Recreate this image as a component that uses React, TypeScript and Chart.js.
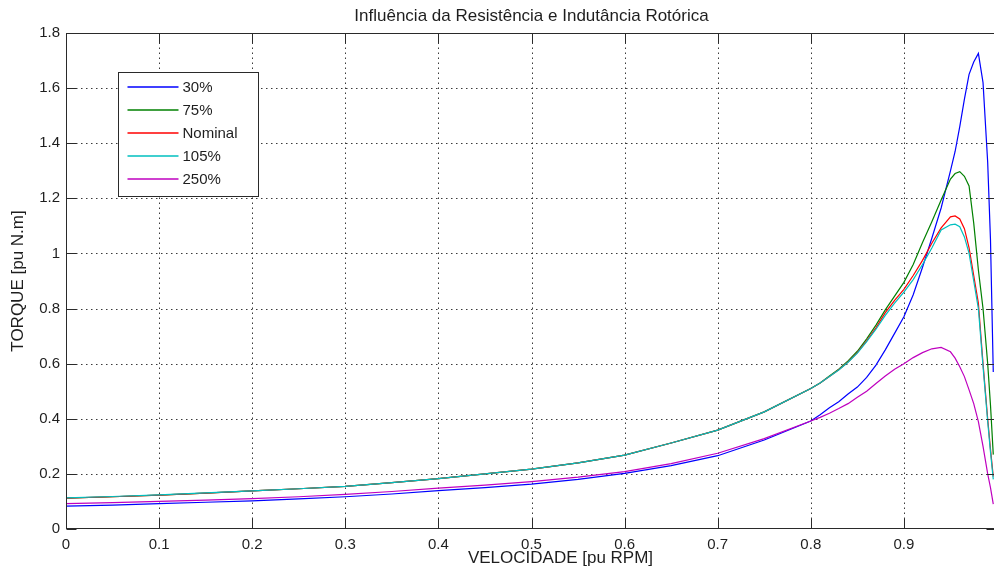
import { useEffect, useRef } from 'react';
import { Chart, registerables } from 'chart.js';

Chart.register(...registerables);

// ---- data ----
const speed = [
  0, 0.05, 0.1, 0.15, 0.2, 0.25, 0.3, 0.35, 0.4, 0.45, 0.5, 0.55, 0.6, 0.65, 0.7, 0.75, 0.8,
  0.81, 0.82, 0.83, 0.84, 0.85, 0.86, 0.87, 0.88, 0.89, 0.9, 0.91, 0.92, 0.93, 0.94, 0.95,
  0.955, 0.96, 0.965, 0.97, 0.975, 0.98, 0.985, 0.99, 0.993, 0.996,
];

const torque30 = [
  0.083, 0.087, 0.092, 0.097, 0.102, 0.109, 0.117, 0.127, 0.139, 0.15, 0.163, 0.18, 0.202, 0.23, 0.266, 0.323, 0.392,
  0.415, 0.44, 0.462, 0.49, 0.515, 0.55, 0.595, 0.65, 0.71, 0.77, 0.85, 0.95, 1.055, 1.165, 1.3,
  1.37, 1.46, 1.56, 1.65, 1.695, 1.726, 1.62, 1.33, 1.05, 0.57,
];

const torque75 = [
  0.112, 0.117, 0.123, 0.13, 0.138, 0.146, 0.155, 0.168, 0.183, 0.2, 0.217, 0.24, 0.268, 0.312, 0.359, 0.425, 0.51,
  0.53, 0.555, 0.58, 0.61, 0.645, 0.69, 0.74, 0.795, 0.845, 0.895, 0.96, 1.04, 1.115, 1.194, 1.27,
  1.29, 1.297, 1.28, 1.245, 1.11, 0.94, 0.8, 0.6, 0.45, 0.27,
];

const torqueNominal = [
  0.112, 0.117, 0.123, 0.13, 0.138, 0.146, 0.155, 0.168, 0.183, 0.2, 0.217, 0.24, 0.268, 0.312, 0.359, 0.425, 0.51,
  0.53, 0.553, 0.578, 0.606, 0.64, 0.683, 0.73, 0.785, 0.83, 0.87, 0.92, 0.975, 1.037, 1.093, 1.133,
  1.136, 1.125, 1.09, 1.02, 0.92, 0.82, 0.6, 0.4, 0.29, 0.19,
];

const torque105 = [
  0.113, 0.118, 0.124, 0.131, 0.138, 0.146, 0.155, 0.168, 0.183, 0.2, 0.217, 0.24, 0.268, 0.312, 0.359, 0.425, 0.51,
  0.53, 0.553, 0.577, 0.605, 0.638, 0.68, 0.725, 0.775, 0.82, 0.86, 0.905, 0.96, 1.02, 1.085, 1.104,
  1.106, 1.097, 1.06, 1.0, 0.9, 0.8, 0.59, 0.39, 0.28, 0.18,
];

const torque250 = [
  0.092, 0.096, 0.1, 0.105, 0.11, 0.117, 0.126, 0.136, 0.148, 0.159, 0.172, 0.188, 0.208, 0.237, 0.275, 0.328, 0.392,
  0.405, 0.42, 0.437, 0.455, 0.478, 0.5, 0.528, 0.555, 0.58, 0.6, 0.622, 0.64, 0.654, 0.659, 0.643,
  0.62, 0.589, 0.553, 0.505, 0.455, 0.39, 0.3, 0.2, 0.15, 0.09,
];

const seriesLabels = ['30%', '75%', 'Nominal', '105%', '250%'];
const seriesColors = ['#0000ff', '#008000', '#ff0000', '#00bfbf', '#bf00bf'];
const seriesValues = [torque30, torque75, torqueNominal, torque105, torque250];

const chartTitle = 'Influência da Resistência e Indutância Rotórica';
const xTitle = 'VELOCIDADE [pu RPM]';
const yTitle = 'TORQUE [pu N.m]';

const FONT = "'Liberation Sans', Arial, Helvetica, sans-serif";
const TEXT = '#1e1e1e';
const AXIS = '#2a2a2a';
const GRID = '#3a3a3a';

const fmt = (v: any) => String(Math.round(Number(v) * 10) / 10);

const matlabPlugin = {
  id: 'matlabFrame',
  beforeDatasetsDraw(chart: any) {
    const { ctx, chartArea: a, scales } = chart;
    const xs = scales.x;
    const ys = scales.y;
    ctx.save();
    ctx.strokeStyle = GRID;
    ctx.lineWidth = 1;
    ctx.setLineDash([1.5, 3.5]);
    xs.ticks.forEach((t: any) => {
      if (t.value <= xs.min || t.value >= xs.max) return;
      const px = Math.round(xs.getPixelForValue(t.value)) + 0.5;
      ctx.beginPath();
      ctx.moveTo(px, a.bottom);
      ctx.lineTo(px, a.top);
      ctx.stroke();
    });
    ys.ticks.forEach((t: any) => {
      if (t.value <= ys.min || t.value >= ys.max) return;
      const py = Math.round(ys.getPixelForValue(t.value)) + 0.5;
      ctx.beginPath();
      ctx.moveTo(a.left, py);
      ctx.lineTo(a.right, py);
      ctx.stroke();
    });
    ctx.restore();
  },
  afterDatasetsDraw(chart: any) {
    const { ctx, chartArea: a, scales } = chart;
    const xs = scales.x;
    const ys = scales.y;
    const L = Math.round(a.left) + 0.5;
    const T = Math.round(a.top) + 0.5;
    const R = Math.round(a.right) - 0.5;
    const B = Math.round(a.bottom) - 0.5;
    ctx.save();
    ctx.setLineDash([]);
    ctx.strokeStyle = AXIS;
    ctx.lineWidth = 1;
    ctx.strokeRect(L, T, R - L, B - T);
    const tl = 10;
    ctx.beginPath();
    xs.ticks.forEach((t: any) => {
      const px = Math.round(xs.getPixelForValue(t.value)) + 0.5;
      ctx.moveTo(px, B);
      ctx.lineTo(px, B - tl);
      ctx.moveTo(px, T);
      ctx.lineTo(px, T + tl);
    });
    ys.ticks.forEach((t: any) => {
      const py = Math.round(ys.getPixelForValue(t.value)) + 0.5;
      ctx.moveTo(L, py);
      ctx.lineTo(L + tl, py);
      ctx.moveTo(R, py);
      ctx.lineTo(R - tl, py);
    });
    ctx.stroke();

    // legend box
    const bx = Math.round(a.left) + 52 + 0.5;
    const by = Math.round(a.top) + 39 + 0.5;
    const bw = 140;
    const bh = 124;
    ctx.fillStyle = '#ffffff';
    ctx.fillRect(bx, by, bw, bh);
    ctx.strokeStyle = AXIS;
    ctx.strokeRect(bx, by, bw, bh);
    ctx.font = `15px ${FONT}`;
    ctx.textBaseline = 'middle';
    ctx.textAlign = 'left';
    chart.data.datasets.forEach((ds: any, i: number) => {
      const y = Math.round(by + 14 + i * 23);
      ctx.strokeStyle = ds.borderColor;
      ctx.lineWidth = 1.6;
      ctx.beginPath();
      ctx.moveTo(bx + 9, y);
      ctx.lineTo(bx + 60, y);
      ctx.stroke();
      ctx.fillStyle = TEXT;
      ctx.fillText(ds.label, bx + 64, y + 1);
    });

    // title and axis labels
    ctx.fillStyle = TEXT;
    ctx.font = `17px ${FONT}`;
    ctx.textAlign = 'center';
    ctx.textBaseline = 'middle';
    ctx.fillText(chartTitle, (a.left + a.right) / 2, 16);
    ctx.fillText(xTitle, (a.left + a.right) / 2 + 29, a.bottom + 29);
    ctx.save();
    ctx.translate(18, (a.top + a.bottom) / 2);
    ctx.rotate(-Math.PI / 2);
    ctx.fillText(yTitle, 0, 0);
    ctx.restore();
    ctx.restore();
  },
};

export default function App() {
  const ref = useRef<HTMLCanvasElement>(null);

  useEffect(() => {
    if (!ref.current) return;
    const datasets = seriesLabels.map((label, i) => ({
      label,
      data: speed.map((s, k) => ({ x: s, y: seriesValues[i][k] })),
      borderColor: seriesColors[i],
      backgroundColor: seriesColors[i],
      borderWidth: 1.2,
      pointRadius: 0,
      tension: 0,
      fill: false,
      order: seriesLabels.length - i,
    }));
    const chart = new Chart(ref.current, {
      type: 'line',
      data: { datasets },
      plugins: [matlabPlugin],
      options: {
        animation: false,
        responsive: false,
        devicePixelRatio: 1,
        parsing: false,
        normalized: true,
        layout: { padding: { top: 33, right: 7, left: 0, bottom: 0 } },
        plugins: {
          legend: { display: false },
          title: { display: false },
          tooltip: { enabled: false },
        },
        scales: {
          x: {
            type: 'linear',
            min: 0,
            max: 1,
            grid: { display: false, drawTicks: false, tickLength: 0 },
            border: { display: false },
            ticks: {
              stepSize: 0.1,
              autoSkip: false,
              maxRotation: 0,
              padding: 7,
              color: TEXT,
              font: { family: FONT, size: 15 },
              callback: (v: any) => (Number(v) >= 1 ? '' : fmt(v)),
            },
            afterFit: (s: any) => {
              s.height = 44;
            },
          },
          y: {
            type: 'linear',
            min: 0,
            max: 1.8,
            grid: { display: false, drawTicks: false, tickLength: 0 },
            border: { display: false },
            ticks: {
              stepSize: 0.2,
              padding: 6,
              color: TEXT,
              font: { family: FONT, size: 15 },
              callback: (v: any) => fmt(v),
            },
            afterFit: (s: any) => {
              s.width = 66;
            },
          },
        },
      },
    });
    return () => chart.destroy();
  }, []);

  return (
    <div
      style={{
        position: 'absolute',
        left: 0,
        top: 0,
        width: 994,
        height: 573,
        overflow: 'hidden',
        background: '#ffffff',
      }}
    >
      <canvas ref={ref} width={1004} height={573} style={{ display: 'block', width: 1004, height: 573 }} />
    </div>
  );
}
